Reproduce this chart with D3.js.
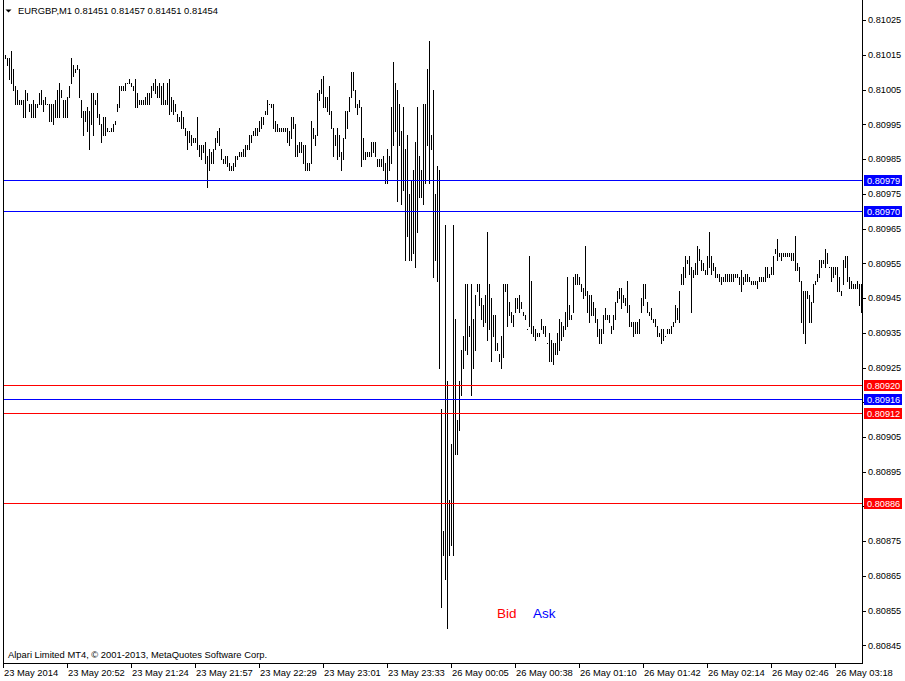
<!DOCTYPE html>
<html>
<head>
<meta charset="utf-8">
<script src="https://cdn.jsdelivr.net/npm/d3@7"></script>
<style>
  body { margin: 0; background: #fff; }
  svg { display: block; }
  text { font-family: "Liberation Sans", Arial, sans-serif; fill: #000; }
</style>
</head>
<body>
<div id="chart"></div>
<script>
// bar highs / lows, one minute each
var highs = [
  0.81014,0.81015,0.81014,0.81014,0.81016,0.81011,0.81006,0.81005,0.81002,0.81002,
  0.81002,0.81005,0.81004,0.81001,0.81001,0.81002,0.81001,0.81001,0.81004,0.81005,
  0.81002,0.81003,0.81001,0.81001,0.81001,0.81001,0.81002,0.81005,0.81007,0.81005,
  0.81002,0.81002,0.81003,0.81006,0.81014,0.81012,0.81011,0.81012,0.81011,0.81002,
  0.80999,0.80999,0.81000,0.80999,0.81004,0.81004,0.81002,0.81004,0.80998,0.80995,
  0.80997,0.80997,0.80994,0.80993,0.80994,0.80995,0.80996,0.81001,0.81006,0.81006,
  0.81006,0.81007,0.81007,0.81008,0.81007,0.81006,0.81008,0.81004,0.81002,0.81002,
  0.81002,0.81003,0.81004,0.81004,0.81006,0.81007,0.81008,0.81006,0.81007,0.81006,
  0.81007,0.81002,0.81007,0.81008,0.81003,0.81002,0.81001,0.80998,0.80997,0.80999,
  0.80997,0.80994,0.80993,0.80993,0.80992,0.80991,0.80991,0.80997,0.80989,0.80989,
  0.80989,0.80990,0.80986,0.80988,0.80987,0.80988,0.80991,0.80993,0.80994,0.80988,
  0.80985,0.80986,0.80986,0.80984,0.80983,0.80984,0.80986,0.80986,0.80987,0.80987,
  0.80988,0.80989,0.80989,0.80992,0.80992,0.80993,0.80994,0.80994,0.80996,0.80997,
  0.80997,0.80999,0.81002,0.81001,0.81001,0.81001,0.80996,0.80995,0.80994,0.80994,
  0.80994,0.80994,0.80994,0.80993,0.80997,0.80997,0.80995,0.80989,0.80990,0.80990,
  0.80989,0.80989,0.80984,0.80984,0.80996,0.80994,0.80992,0.81004,0.81005,0.81008,
  0.81009,0.81003,0.81003,0.81006,0.80999,0.80994,0.80992,0.80994,0.80992,0.80987,
  0.80991,0.80999,0.80999,0.81003,0.81010,0.81010,0.81005,0.81001,0.81002,0.81000,
  0.80991,0.80987,0.80987,0.80987,0.80990,0.80990,0.80990,0.80985,0.80985,0.80985,
  0.80986,0.80984,0.80988,0.80986,0.81000,0.81013,0.81007,0.81005,0.81001,0.80993,
  0.81000,0.80988,0.80992,0.80975,0.80979,0.80982,0.80990,0.81000,0.80986,0.80982,
  0.81001,0.81001,0.81011,0.81019,0.80992,0.81005,0.80975,0.80983,0.80982,0.80913,
  0.80878,0.80966,0.80921,0.80887,0.80903,0.80966,0.80939,0.80910,0.80921,0.80930,
  0.80934,0.80949,0.80949,0.80937,0.80949,0.80939,0.80946,0.80949,0.80949,0.80945,
  0.80943,0.80946,0.80964,0.80949,0.80945,0.80940,0.80940,0.80932,0.80929,0.80934,
  0.80949,0.80949,0.80949,0.80944,0.80941,0.80940,0.80945,0.80945,0.80946,0.80944,
  0.80941,0.80940,0.80936,0.80957,0.80950,0.80937,0.80936,0.80935,0.80935,0.80939,
  0.80937,0.80937,0.80932,0.80935,0.80933,0.80932,0.80932,0.80935,0.80939,0.80938,
  0.80937,0.80941,0.80951,0.80943,0.80940,0.80951,0.80952,0.80952,0.80951,0.80949,
  0.80948,0.80960,0.80947,0.80946,0.80946,0.80944,0.80942,0.80939,0.80936,0.80936,
  0.80940,0.80942,0.80940,0.80940,0.80937,0.80940,0.80944,0.80947,0.80948,0.80948,
  0.80946,0.80945,0.80950,0.80943,0.80938,0.80938,0.80938,0.80938,0.80939,0.80945,
  0.80949,0.80949,0.80944,0.80941,0.80942,0.80939,0.80939,0.80937,0.80935,0.80936,
  0.80936,0.80934,0.80936,0.80936,0.80937,0.80938,0.80943,0.80942,0.80947,0.80952,
  0.80954,0.80957,0.80956,0.80957,0.80954,0.80953,0.80955,0.80960,0.80959,0.80956,
  0.80955,0.80953,0.80957,0.80964,0.80957,0.80955,0.80954,0.80952,0.80952,0.80951,
  0.80951,0.80952,0.80952,0.80952,0.80952,0.80952,0.80952,0.80952,0.80951,0.80953,
  0.80951,0.80952,0.80952,0.80951,0.80950,0.80950,0.80950,0.80950,0.80951,0.80951,
  0.80951,0.80954,0.80954,0.80952,0.80954,0.80957,0.80959,0.80962,0.80958,0.80958,
  0.80958,0.80958,0.80958,0.80958,0.80958,0.80958,0.80963,0.80955,0.80954,0.80950,
  0.80947,0.80947,0.80947,0.80946,0.80944,0.80949,0.80950,0.80952,0.80956,0.80956,
  0.80956,0.80959,0.80958,0.80954,0.80954,0.80954,0.80954,0.80954,0.80951,0.80947,
  0.80956,0.80957,0.80957,0.80951,0.80950,0.80949,0.80949,0.80950,0.80949,0.80949
];
var lows = [
  0.81010,0.81014,0.81012,0.81008,0.81007,0.81005,0.81001,0.81001,0.81001,0.81001,
  0.80997,0.80997,0.81002,0.80999,0.80997,0.80997,0.80997,0.81000,0.81001,0.81001,
  0.80999,0.81001,0.81001,0.80996,0.80996,0.80995,0.80997,0.80997,0.80997,0.81003,
  0.80997,0.80997,0.80997,0.81003,0.81007,0.81009,0.81010,0.81011,0.81003,0.80997,
  0.80992,0.80996,0.80993,0.80988,0.80995,0.80992,0.81001,0.80997,0.80995,0.80990,
  0.80992,0.80992,0.80993,0.80993,0.80993,0.80993,0.80995,0.80999,0.81000,0.81005,
  0.81005,0.81005,0.81007,0.81007,0.81006,0.81005,0.81000,0.81000,0.81001,0.81001,
  0.81001,0.81001,0.81001,0.81001,0.81003,0.81005,0.81004,0.81003,0.81003,0.81001,
  0.81001,0.81001,0.81001,0.80998,0.80999,0.80998,0.80999,0.80996,0.80996,0.80994,
  0.80994,0.80992,0.80988,0.80990,0.80989,0.80990,0.80990,0.80988,0.80986,0.80985,
  0.80987,0.80984,0.80977,0.80982,0.80984,0.80984,0.80988,0.80990,0.80989,0.80985,
  0.80984,0.80984,0.80983,0.80982,0.80982,0.80982,0.80983,0.80985,0.80986,0.80986,
  0.80986,0.80986,0.80988,0.80988,0.80990,0.80992,0.80992,0.80992,0.80993,0.80994,
  0.80995,0.80998,0.80998,0.81001,0.81000,0.80994,0.80993,0.80993,0.80993,0.80993,
  0.80993,0.80993,0.80990,0.80989,0.80991,0.80994,0.80986,0.80986,0.80987,0.80987,
  0.80984,0.80982,0.80982,0.80982,0.80984,0.80991,0.80989,0.80992,0.81002,0.81004,
  0.81000,0.81000,0.80999,0.80998,0.80994,0.80986,0.80989,0.80985,0.80986,0.80982,
  0.80985,0.80991,0.80994,0.80999,0.81003,0.81005,0.81000,0.80998,0.81000,0.80983,
  0.80985,0.80985,0.80986,0.80986,0.80986,0.80987,0.80986,0.80983,0.80983,0.80983,
  0.80982,0.80978,0.80978,0.80982,0.80984,0.80989,0.80993,0.80973,0.80989,0.80972,
  0.80976,0.80956,0.80963,0.80956,0.80956,0.80958,0.80954,0.80964,0.80974,0.80974,
  0.80972,0.80978,0.80989,0.80978,0.80988,0.80951,0.80956,0.80950,0.80925,0.80856,
  0.80871,0.80864,0.80850,0.80871,0.80874,0.80871,0.80900,0.80900,0.80907,0.80917,
  0.80925,0.80930,0.80929,0.80934,0.80917,0.80925,0.80930,0.80947,0.80943,0.80939,
  0.80937,0.80938,0.80933,0.80936,0.80927,0.80934,0.80930,0.80930,0.80927,0.80925,
  0.80928,0.80947,0.80937,0.80940,0.80938,0.80937,0.80941,0.80942,0.80941,0.80942,
  0.80940,0.80939,0.80936,0.80937,0.80935,0.80934,0.80933,0.80934,0.80934,0.80936,
  0.80935,0.80934,0.80932,0.80927,0.80927,0.80926,0.80929,0.80929,0.80930,0.80933,
  0.80934,0.80936,0.80937,0.80939,0.80939,0.80941,0.80949,0.80949,0.80949,0.80947,
  0.80945,0.80946,0.80941,0.80938,0.80940,0.80940,0.80938,0.80934,0.80932,0.80932,
  0.80935,0.80939,0.80939,0.80938,0.80935,0.80936,0.80939,0.80944,0.80945,0.80942,
  0.80944,0.80943,0.80941,0.80937,0.80937,0.80934,0.80935,0.80935,0.80935,0.80941,
  0.80943,0.80945,0.80941,0.80940,0.80939,0.80938,0.80937,0.80934,0.80934,0.80932,
  0.80933,0.80934,0.80935,0.80935,0.80935,0.80937,0.80938,0.80939,0.80938,0.80949,
  0.80949,0.80951,0.80955,0.80952,0.80941,0.80951,0.80952,0.80952,0.80956,0.80953,
  0.80953,0.80952,0.80952,0.80954,0.80952,0.80953,0.80951,0.80951,0.80950,0.80949,
  0.80950,0.80950,0.80950,0.80950,0.80950,0.80950,0.80951,0.80951,0.80949,0.80947,
  0.80949,0.80950,0.80950,0.80950,0.80949,0.80949,0.80949,0.80948,0.80950,0.80950,
  0.80950,0.80950,0.80951,0.80951,0.80952,0.80952,0.80958,0.80956,0.80957,0.80956,
  0.80957,0.80957,0.80957,0.80957,0.80956,0.80956,0.80953,0.80953,0.80950,0.80938,
  0.80935,0.80932,0.80945,0.80938,0.80938,0.80944,0.80949,0.80950,0.80951,0.80954,
  0.80955,0.80954,0.80955,0.80954,0.80950,0.80951,0.80952,0.80947,0.80947,0.80946,
  0.80949,0.80954,0.80950,0.80948,0.80948,0.80948,0.80948,0.80948,0.80943,0.80941
];

// price axis ticks
var priceTicks = [0.81025,0.81015,0.81005,0.80995,0.80985,0.80975,0.80965,0.80955,0.80945,
  0.80935,0.80925,0.80915,0.80905,0.80895,0.80885,0.80875,0.80865,0.80855,0.80845];

// time axis: bar index of each label
var timeTickBars = [0,32,64,96,128,160,192,224,256,288,320,352,384,416];
var timeLabels = ["23 May 2014","23 May 20:52","23 May 21:24","23 May 21:57","23 May 22:29",
  "23 May 23:01","23 May 23:33","26 May 00:05","26 May 00:38","26 May 01:10","26 May 01:42",
  "26 May 02:14","26 May 02:46","26 May 03:18"];

// horizontal price levels
var levelPrices = [0.80979, 0.80970, 0.80920, 0.80916, 0.80912, 0.80886];
var levelColors = ["#0000ff", "#0000ff", "#ff0000", "#0000ff", "#ff0000", "#ff0000"];

var headerText = "EURGBP,M1  0.81451 0.81457 0.81451 0.81454";
var footerText = "Alpari Limited MT4, \u00a9 2001-2013, MetaQuotes Software Corp.";

// layout
var svgWidth = 905;
var svgHeight = 681;
var plotLeft = 3;
var plotRight = 862;
var plotBottom = 663;

var svg = d3.select("#chart")
  .append("svg")
  .attr("width", svgWidth)
  .attr("height", svgHeight)
  .attr("shape-rendering", "crispEdges");

var xScale = d3.scaleLinear()
  .domain([0, highs.length - 1])
  .range([3, 861]);

var yScale = d3.scaleLinear()
  .domain([0.80845, 0.81025])
  .range([645.4, 20.2]);

// tick labels that sit under a level box are hidden by it, as in the terminal
var visibleTicks = priceTicks.filter(function(t) {
  return levelPrices.every(p => Math.abs(yScale(p) - yScale(t)) > 8);
});

// price tick labels on the right
var priceAxis = svg.append("g");
priceAxis.selectAll("line")
  .data(priceTicks)
  .enter()
  .append("line")
  .attr("x1", plotRight)
  .attr("x2", plotRight + 4)
  .attr("y1", d => Math.round(yScale(d)) + 0.5)
  .attr("y2", d => Math.round(yScale(d)) + 0.5)
  .attr("stroke", "#000");
priceAxis.selectAll("text")
  .data(visibleTicks)
  .enter()
  .append("text")
  .attr("x", plotRight + 6)
  .attr("y", d => yScale(d))
  .attr("dy", "0.35em")
  .attr("font-size", "9.2px")
  .text(d => d.toFixed(5));

// bars (high-low lines)
svg.append("g")
  .selectAll("rect")
  .data(highs)
  .enter()
  .append("rect")
  .attr("x", (d, i) => Math.round(xScale(i)))
  .attr("y", d => Math.round(yScale(d)))
  .attr("width", 1)
  .attr("height", (d, i) => Math.max(1, Math.round(yScale(lows[i])) - Math.round(yScale(d)) + 1))
  .attr("fill", "#000");

// level lines with their price boxes
var levels = svg.append("g");
levels.selectAll("line")
  .data(levelPrices)
  .enter()
  .append("line")
  .attr("x1", plotLeft)
  .attr("x2", plotRight)
  .attr("y1", d => Math.round(yScale(d)) + 0.5)
  .attr("y2", d => Math.round(yScale(d)) + 0.5)
  .attr("stroke", (d, i) => levelColors[i]);
levels.selectAll("rect")
  .data(levelPrices)
  .enter()
  .append("rect")
  .attr("x", plotRight + 2)
  .attr("y", d => Math.round(yScale(d)) - 5)
  .attr("width", 38)
  .attr("height", 11)
  .attr("fill", (d, i) => levelColors[i]);
levels.selectAll("text")
  .data(levelPrices)
  .enter()
  .append("text")
  .attr("x", plotRight + 5)
  .attr("y", d => Math.round(yScale(d)) + 0.5)
  .attr("dy", "0.35em")
  .attr("font-size", "9.2px")
  .style("fill", "#fff")
  .text(d => d.toFixed(5));

// frame
svg.append("line")
  .attr("x1", plotLeft + 0.5).attr("x2", plotLeft + 0.5)
  .attr("y1", 0).attr("y2", plotBottom)
  .attr("stroke", "#000");
svg.append("line")
  .attr("x1", plotRight + 0.5).attr("x2", plotRight + 0.5)
  .attr("y1", 0).attr("y2", plotBottom + 1)
  .attr("stroke", "#000");
svg.append("line")
  .attr("x1", plotLeft).attr("x2", plotRight + 1)
  .attr("y1", plotBottom + 0.5).attr("y2", plotBottom + 0.5)
  .attr("stroke", "#000");

// time axis
var timeAxis = svg.append("g");
timeAxis.selectAll("line")
  .data(timeTickBars)
  .enter()
  .append("line")
  .attr("x1", d => Math.round(xScale(d)) + 0.5)
  .attr("x2", d => Math.round(xScale(d)) + 0.5)
  .attr("y1", plotBottom)
  .attr("y2", plotBottom + 5)
  .attr("stroke", "#000");
timeAxis.selectAll("text")
  .data(timeTickBars)
  .enter()
  .append("text")
  .attr("x", d => xScale(d) + 1)
  .attr("y", plotBottom + 10)
  .attr("dy", "0.35em")
  .attr("font-size", "9.4px")
  .text((d, i) => timeLabels[i]);

// header
svg.append("path")
  .attr("d", "M5.5,9.5 L11.5,9.5 L8.5,12.5 Z")
  .attr("fill", "#000")
  .attr("shape-rendering", "auto");
svg.append("text")
  .attr("x", 18)
  .attr("y", 11)
  .attr("dy", "0.35em")
  .attr("font-size", "9.4px")
  .text(headerText);

// footer
svg.append("text")
  .attr("x", 8)
  .attr("y", 655)
  .attr("dy", "0.35em")
  .attr("font-size", "9.4px")
  .text(footerText);

// bid / ask legend
svg.append("text")
  .attr("x", 497)
  .attr("y", 618)
  .attr("font-size", "13.5px")
  .style("fill", "#ff0000")
  .text("Bid");
svg.append("text")
  .attr("x", 533)
  .attr("y", 618)
  .attr("font-size", "13.5px")
  .style("fill", "#0000ff")
  .text("Ask");
</script>
</body>
</html>
